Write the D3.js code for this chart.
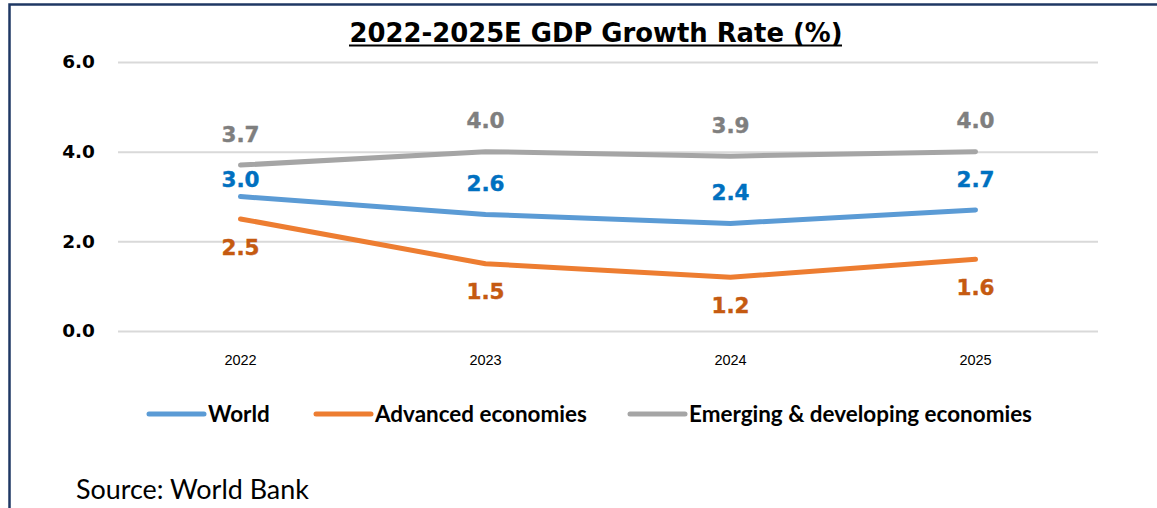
<!DOCTYPE html>
<html>
<head>
<meta charset="utf-8">
<script src="https://cdn.jsdelivr.net/npm/d3@7"></script>
<style>
  html, body { margin: 0; padding: 0; background: #fff; }
  svg { display: block; }
</style>
</head>
<body>
<svg id="chart" width="1157" height="508"></svg>
<script>
'use strict'

const years = ['2022', '2023', '2024', '2025']
const world = [3.0, 2.6, 2.4, 2.7]
const advanced = [2.5, 1.5, 1.2, 1.6]
const emerging = [3.7, 4.0, 3.9, 4.0]
const yTicks = [0, 2, 4, 6]

const titleText = '2022-2025E GDP Growth Rate (%)'
const sourceText = 'Source: World Bank'

const series = [
  { name: 'World', values: world, line: '#5b9bd5', label: '#0070c0', place: 'above' },
  { name: 'Advanced economies', values: advanced, line: '#ed7d31', label: '#c55a11', place: 'below' },
  { name: 'Emerging & developing economies', values: emerging, line: '#a5a5a5', label: '#7f7f7f', place: 'above' }
]

const svg = d3.select('#chart')
const plot = { left: 118, right: 1098, top: 62, bottom: 331 }

const x = d3.scaleBand().domain(years).range([plot.left, plot.right])
const y = d3.scaleLinear().domain([0, 6]).range([plot.bottom, plot.top])
const cx = d => x(d) + x.bandwidth() / 2

// frame: only top and left edges are visible in the crop
svg.append('path')
  .attr('d', 'M9.5,508V4.5H1157')
  .attr('fill', 'none')
  .attr('stroke', '#1f3864')
  .attr('stroke-width', 2.5)

// fit a text element to a target width by scaling its font size
function fitWidth (sel, width) {
  const size = parseFloat(sel.attr('font-size'))
  const w = sel.node().getComputedTextLength()
  sel.attr('font-size', (size * width / w).toFixed(2))
}

const title = svg.append('text')
  .attr('x', 596)
  .attr('y', 42)
  .attr('text-anchor', 'middle')
  .attr('font-family', 'DejaVu Sans, sans-serif')
  .attr('font-weight', 'bold')
  .attr('font-size', 25)
  .attr('fill', '#000')
  .text(titleText)
fitWidth(title, 493)
svg.append('line')
  .attr('x1', 349).attr('x2', 842)
  .attr('y1', 45.5).attr('y2', 45.5)
  .attr('stroke', '#000')
  .attr('stroke-width', 2)

// gridlines + y axis
const yAxis = svg.append('g')
  .attr('transform', `translate(${plot.left},0)`)
  .call(d3.axisLeft(y).tickValues(yTicks).tickFormat(d3.format('.1f'))
    .tickSize(-(plot.right - plot.left)).tickPadding(23))
yAxis.select('.domain').remove()
yAxis.selectAll('.tick line')
  .attr('stroke', '#d9d9d9')
  .attr('stroke-width', 2)
yAxis.selectAll('.tick text')
  .attr('font-family', 'DejaVu Sans, sans-serif')
  .attr('font-weight', 'bold')
  .attr('font-size', 18.5)
  .attr('fill', '#000')

// x axis
const xAxis = svg.append('g')
  .attr('transform', `translate(0,${plot.bottom})`)
  .call(d3.axisBottom(x).tickSize(0).tickPadding(24))
xAxis.select('.domain').remove()
xAxis.selectAll('.tick text')
  .attr('font-family', 'Liberation Sans, Arial, sans-serif')
  .attr('font-size', 14.5)
  .attr('fill', '#000')

// lines
const line = d3.line()
  .x((d, i) => cx(years[i]))
  .y(d => y(d))

svg.append('g').selectAll('path')
  .data(series.slice().reverse())
  .join('path')
  .attr('d', s => line(s.values))
  .attr('fill', 'none')
  .attr('stroke', s => s.line)
  .attr('stroke-width', 5)
  .attr('stroke-linecap', 'round')
  .attr('stroke-linejoin', 'round')

// data labels; World 2022 sits closer to its point to clear the grey line
const labelOffset = { above: -31, below: 28 }
const nudge = { 'World-0': 14 }

series.forEach(s => {
  svg.append('g').selectAll('text')
    .data(s.values)
    .join('text')
    .attr('x', (d, i) => cx(years[i]))
    .attr('y', (d, i) => y(d) + labelOffset[s.place] + (nudge[`${s.name}-${i}`] || 0))
    .attr('dy', '0.36em')
    .attr('text-anchor', 'middle')
    .attr('font-family', 'DejaVu Sans, sans-serif')
    .attr('font-weight', 'bold')
    .attr('font-size', 21.5)
    .attr('fill', s.label)
    .attr('stroke', s.label)
    .attr('stroke-width', 0.4)
    .text(d => d3.format('.1f')(d))
})

// legend
const legendX = [149, 316, 630]
const legend = svg.append('g').selectAll('g')
  .data(series)
  .join('g')
  .attr('transform', (s, i) => `translate(${legendX[i]},414)`)
legend.append('line')
  .attr('x1', 0).attr('x2', 55)
  .attr('stroke', s => s.line)
  .attr('stroke-width', 5)
  .attr('stroke-linecap', 'round')
legend.append('text')
  .attr('x', 59)
  .attr('dy', '0.35em')
  .attr('font-family', 'Lato, Open Sans, sans-serif')
  .attr('font-weight', 'bold')
  .attr('font-size', 19)
  .attr('fill', '#000')
  .text(s => s.name)
fitWidth(legend.filter((s, i) => i === 1).select('text'), 212)
const legendSize = legend.filter((s, i) => i === 1).select('text').attr('font-size')
legend.selectAll('text').attr('font-size', legendSize)

const source = svg.append('text')
  .attr('x', 76)
  .attr('y', 499)
  .attr('font-family', 'Lato, Open Sans, sans-serif')
  .attr('font-size', 22)
  .attr('fill', '#000')
  .text(sourceText)
fitWidth(source, 233)
</script>
</body>
</html>
